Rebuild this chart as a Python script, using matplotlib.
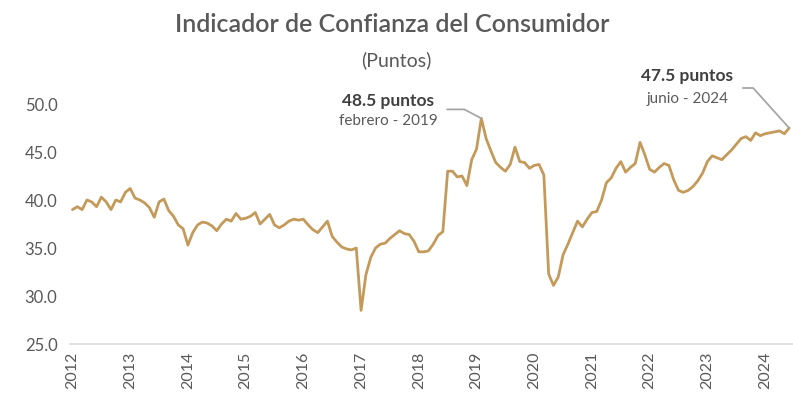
import numpy as np
import matplotlib
matplotlib.use("Agg")
import matplotlib.pyplot as plt
from matplotlib.lines import Line2D
from matplotlib.transforms import IdentityTransform

plt.rcParams['font.family'] = ['Lato', 'DejaVu Sans']

#-- Data: monthly index, Jan 2012 .. Jun 2024
years = [str(y) for y in range(2012, 2025)]
v2012 = [39.0, 39.3, 39.0, 40.0, 39.8, 39.3, 40.3, 39.8, 39.0, 40.0, 39.8, 40.8]
v2013 = [41.2, 40.2, 40.0, 39.7, 39.2, 38.2, 39.8, 40.1, 38.9, 38.3, 37.4, 37.0]
v2014 = [35.3, 36.6, 37.4, 37.7, 37.6, 37.3, 36.8, 37.5, 38.0, 37.8, 38.6, 38.0]
v2015 = [38.1, 38.3, 38.7, 37.5, 38.0, 38.5, 37.4, 37.1, 37.4, 37.8, 38.0, 37.9]
v2016 = [38.0, 37.4, 36.9, 36.6, 37.2, 37.8, 36.2, 35.6, 35.1, 34.9, 34.8, 35.0]
v2017 = [28.5, 32.2, 34.0, 35.0, 35.4, 35.5, 36.0, 36.4, 36.8, 36.5, 36.4, 35.7]
v2018 = [34.6, 34.6, 34.7, 35.4, 36.3, 36.7, 43.0, 43.0, 42.4, 42.5, 41.5, 44.2]
v2019 = [45.3, 48.5, 46.4, 45.1, 43.9, 43.4, 43.0, 43.7, 45.5, 44.0, 43.9, 43.3]
v2020 = [43.6, 43.7, 42.6, 32.3, 31.1, 32.0, 34.3, 35.4, 36.6, 37.8, 37.2, 38.0]
v2021 = [38.7, 38.8, 40.0, 41.8, 42.3, 43.3, 44.0, 42.9, 43.4, 43.8, 46.0, 44.7]
v2022 = [43.2, 42.9, 43.4, 43.8, 43.6, 42.1, 41.0, 40.8, 41.0, 41.4, 42.0, 42.8]
v2023 = [44.0, 44.6, 44.4, 44.2, 44.7, 45.2, 45.8, 46.4, 46.6, 46.2, 47.0, 46.7]
v2024 = [46.9, 47.0, 47.1, 47.2, 46.9, 47.5]

values = np.array(v2012 + v2013 + v2014 + v2015 + v2016 + v2017 + v2018
                  + v2019 + v2020 + v2021 + v2022 + v2023 + v2024)
months = np.arange(len(values))

peak_idx = 85          # febrero 2019
last_idx = len(values) - 1   # junio 2024

gold = '#C49A5A'
gray_txt = '#595959'
lead = '#A6A6A6'

fig = plt.figure(figsize=(7.93, 4.06), dpi=100)
ax = fig.add_axes([70/793, 61/406, 723/793, 240/406])

ax.plot(months, values, color=gold, lw=2.0, solid_joinstyle='round',
        solid_capstyle='round', clip_on=False)

ax.set_xlim(-0.52, 149.8)
ax.set_ylim(25, 50)
ax.set_yticks(np.arange(25, 50.1, 5))
ax.set_yticklabels([f"{t:.1f}" for t in np.arange(25, 50.1, 5)])
ax.set_xticks(np.arange(0, len(values), 12))
ax.set_xticklabels(years, rotation=90)
ax.tick_params(axis='y', length=0, pad=9, labelsize=12, labelcolor=gray_txt)
ax.tick_params(axis='x', length=0, pad=5, labelsize=11.5, labelcolor=gray_txt)

for s in ['top', 'right', 'left']:
    ax.spines[s].set_visible(False)
ax.spines['bottom'].set_color('#D9D9D9')
ax.spines['bottom'].set_linewidth(1.2)

# titles
fig.text(392/793, 1 - 25/406, 'Indicador de Confianza del Consumidor',
         ha='center', va='center', fontsize=18, fontweight='semibold',
         color=gray_txt)
fig.text(396/793, 1 - 60/406, '(Puntos)', ha='center', va='center',
         fontsize=14, color=gray_txt)

# annotations
def callout(idx, bold, sub, dx_txt, dy_bold, dy_sub, leader):
    v = values[idx]
    ax.annotate(bold, xy=(idx, v), xytext=(dx_txt, dy_bold),
                textcoords='offset pixels', ha='center', va='center',
                fontsize=12.5, fontweight='bold', color='#404040')
    ax.annotate(sub, xy=(idx, v), xytext=(dx_txt, dy_sub),
                textcoords='offset pixels', ha='center', va='center',
                fontsize=11, color=gray_txt)
    px, py = ax.transData.transform((idx, v))
    xs = [px] + [px + o[0] for o in leader]
    ys = [py] + [py + o[1] for o in leader]
    fig.add_artist(Line2D(xs, ys, color=lead, lw=1.3,
                          transform=IdentityTransform()))

callout(peak_idx, f"{values[peak_idx]:.1f} puntos", 'febrero - 2019',
        -93, 18, -2, [(-17, 9), (-34, 9)])
callout(last_idx, f"{values[last_idx]:.1f} puntos", 'junio - 2024',
        -102, 53, 30, [(-36, 40), (-46, 40)])

fig.savefig('out.png', dpi=100, facecolor='white')
